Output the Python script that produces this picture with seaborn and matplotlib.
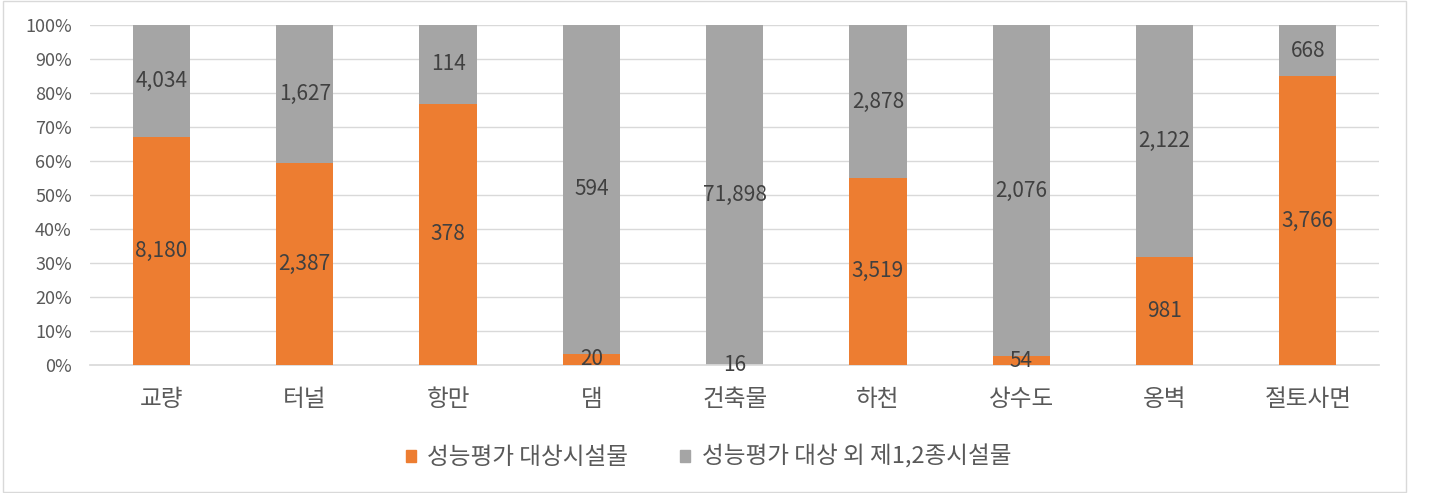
import pandas as pd
import seaborn as sns
import matplotlib.pyplot as plt
from matplotlib.patches import Rectangle

categories = ['교량', '터널', '항만', '댐', '건축물', '하천', '상수도', '옹벽', '절토사면']
target = [8180, 2387, 378, 20, 16, 3519, 54, 981, 3766]
others = [4034, 1627, 114, 594, 71898, 2878, 2076, 2122, 668]
series_names = ['성능평가 대상시설물', '성능평가 대상 외 제1,2종시설물']

ORANGE = '#ED7D31'
GRAY = '#A5A5A5'

df = pd.DataFrame({'cat': categories, 'target': target, 'others': others})
df['total'] = df['target'] + df['others']
df['t_pct'] = df['target'] / df['total'] * 100
df['full'] = 100.0

sns.set_theme(style='white')
plt.rcParams['font.family'] = ['Noto Sans CJK KR', 'DejaVu Sans']

fig = plt.figure(figsize=(14.49, 4.93), dpi=100)
ax = fig.add_axes([0.062, 0.260, 0.890, 0.689])

# gray bar covers full 100%, orange bar drawn on top of it
sns.barplot(data=df, x='cat', y='full', color=GRAY, width=0.4, saturation=1,
            linewidth=0, ax=ax, zorder=2)
sns.barplot(data=df, x='cat', y='t_pct', color=ORANGE, width=0.4, saturation=1,
            linewidth=0, ax=ax, zorder=3)

ax.set_ylim(0, 100)
ax.set_xlim(-0.5, len(categories) - 0.5)
ax.set_yticks(range(0, 101, 10))
ax.set_yticklabels([f'{v}%' for v in range(0, 101, 10)], color='#595959', fontsize=13)
ax.set_xticks(range(len(categories)))
ax.set_xticklabels(categories, color='#595959', fontsize=17)
ax.tick_params(axis='x', pad=17, length=0)
ax.tick_params(axis='y', length=0, pad=13)
ax.set_xlabel('')
ax.set_ylabel('')
for y in range(10, 101, 10):
    ax.axhline(y, color='#d9d9d9', lw=1, zorder=1)
for s in ['left', 'right', 'top']:
    ax.spines[s].set_visible(False)
ax.spines['bottom'].set_color('#d9d9d9')

# value labels
for i, row in df.iterrows():
    tp = row['t_pct']
    ax.text(i, tp / 2 if tp > 1 else 0, f"{row['target']:,}", ha='center', va='center',
            fontsize=15, color='#404040', zorder=5)
    ax.text(i, (tp + 100) / 2, f"{row['others']:,}", ha='center', va='center',
            fontsize=15, color='#404040', zorder=5)

handles = [Rectangle((0, 0), 1, 1, color=ORANGE), Rectangle((0, 0), 1, 1, color=GRAY)]
fig.legend(handles, series_names, loc='center', bbox_to_anchor=(0.489, 0.073), ncol=2,
           frameon=False, fontsize=17, handlelength=0.4, handleheight=0.4,
           handletextpad=0.5, columnspacing=2.2, labelcolor='#595959')

fig.patches.append(Rectangle((0.002, 0.003), 0.968, 0.994, transform=fig.transFigure,
                             fill=False, edgecolor='#d9d9d9', lw=1))

fig.savefig('out.png', dpi=100)
